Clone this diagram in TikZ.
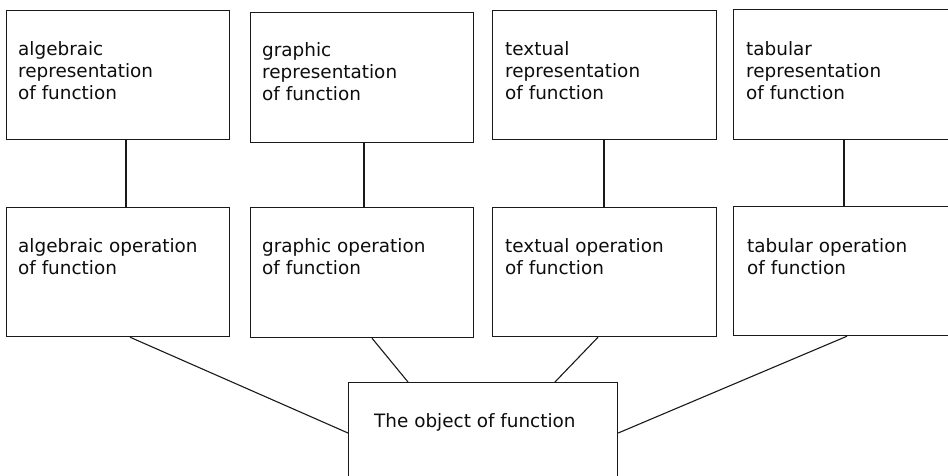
\documentclass[tikz,border=0pt]{standalone}
\usepackage{fontspec}
\setmainfont{DejaVu Sans}
\begin{document}
\begin{tikzpicture}[x=1pt,y=-1pt,
  box/.style={draw=black!90, line width=1.2pt, rectangle, inner sep=0pt, anchor=north west},
  label/.style={anchor=north west, inner sep=0pt, align=left, text=black!95,
    font=\fontsize{18.4pt}{22pt}\selectfont},
  link/.style={draw=black!90, line width=1.1pt}]
\useasboundingbox (0,0) rectangle (948,476);

% representation boxes
\node[box, minimum width=223pt, minimum height=129pt] (r1) at (6,10) {};
\node[box, minimum width=223pt, minimum height=130pt] (r2) at (250,12) {};
\node[box, minimum width=224pt, minimum height=129pt] (r3) at (492,10) {};
\node[box, minimum width=217pt, minimum height=130pt] (r4) at (733,9) {};

% operation boxes
\node[box, minimum width=223pt, minimum height=129pt] (o1) at (6,207) {};
\node[box, minimum width=223pt, minimum height=130pt] (o2) at (250,207) {};
\node[box, minimum width=224pt, minimum height=129pt] (o3) at (492,207) {};
\node[box, minimum width=217pt, minimum height=129pt] (o4) at (733,206) {};

% object box
\node[box, minimum width=269pt, minimum height=120pt] (f) at (348,382) {};

% texts
\node[label] (t1) at ([shift={(12pt,-31pt)}]r1.north west) {algebraic\\representation\\of function};
\node[label] (t2) at ([shift={(12pt,-30pt)}]r2.north west) {graphic\\representation\\of function};
\node[label] (t3) at ([shift={(13pt,-31pt)}]r3.north west) {textual\\representation\\of function};
\node[label] (t4) at ([shift={(13pt,-32pt)}]r4.north west) {tabular\\representation\\of function};
\node[label] (u1) at ([shift={(12pt,-31pt)}]o1.north west) {algebraic operation\\of function};
\node[label] (u2) at ([shift={(12pt,-31pt)}]o2.north west) {graphic operation\\of function};
\node[label] (u3) at ([shift={(13pt,-31pt)}]o3.north west) {textual operation\\of function};
\node[label] (u4) at ([shift={(14pt,-32pt)}]o4.north west) {tabular operation\\of function};
\node[label] (tf) at ([shift={(26pt,-31pt)}]f.north west) {The object of function};

% vertical links
\draw[link] ([xshift=120pt]r1.south west) -- ([xshift=120pt]o1.north west);
\draw[link] ([xshift=114pt]r2.south west) -- ([xshift=114pt]o2.north west);
\draw[link] ([xshift=112pt]r3.south west) -- ([xshift=112pt]o3.north west);
\draw[link] ([xshift=111pt]r4.south west) -- ([xshift=111pt]o4.north west);

% links to the object box
\draw[link] ([xshift=124pt]o1.south west) -- ([yshift=-51pt]f.north west);
\draw[link] ([xshift=122pt]o2.south west) -- ([xshift=60pt]f.north west);
\draw[link] ([xshift=106pt]o3.south west) -- ([xshift=207pt]f.north west);
\draw[link] ([xshift=114pt]o4.south west) -- ([yshift=-51pt]f.north east);
\end{tikzpicture}
\end{document}
